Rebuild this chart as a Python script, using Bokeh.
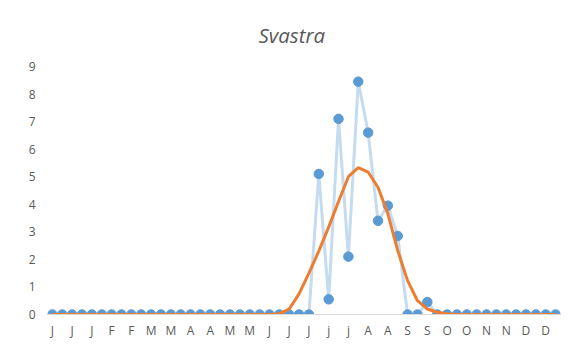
from bokeh.plotting import figure
from bokeh.models import ColumnDataSource, FixedTicker, Range1d
from bokeh.embed import file_html
from bokeh.resources import INLINE

# Weekly observations (52 weeks)
observed = [0]*27 + [5.1, 0.55, 7.1, 2.1, 8.45, 6.6, 3.4, 3.95, 2.85, 0, 0, 0.45] + [0]*13
fitted = [0]*23 + [0.03, 0.2, 0.75, 1.5, 2.3, 3.17, 4.1, 5.0, 5.33, 5.17, 4.62, 3.66,
                   2.32, 1.23, 0.5, 0.2, 0.08, 0.03] + [0]*11
tick_labels = ["J", "J", "J", "F", "F", "M", "M", "A", "A", "M", "M", "J", "J",
               "J", "j", "j", "A", "A", "S", "S", "O", "O", "N", "N", "D", "D"]
y_ticks = list(range(0, 10))

weeks = list(range(len(observed)))
src = ColumnDataSource(dict(x=weeks, obs=observed, fit=fitted))

p = figure(width=564, height=345, output_backend="svg", toolbar_location=None,
           x_range=Range1d(-0.5, len(weeks) - 0.5), y_range=Range1d(0, 9),
           min_border_left=47, min_border_right=4, min_border_top=66, min_border_bottom=31)
p.title.text = "Svastra"
p.title.align = "left"
p.title.offset = 211
p.title.text_font = "Open Sans"
p.title.text_font_style = "italic"
p.title.text_font_size = "20.5px"
p.title.text_color = "#595959"
p.title.standoff = 36

p.outline_line_color = None
p.xgrid.grid_line_color = None
p.ygrid.grid_line_color = None

p.xaxis.ticker = FixedTicker(ticks=list(range(0, len(weeks), 2)))
p.xaxis.major_label_overrides = {i * 2: lab for i, lab in enumerate(tick_labels)}
p.yaxis.ticker = FixedTicker(ticks=y_ticks)
for ax in (p.xaxis, p.yaxis):
    ax.major_tick_line_color = None
    ax.minor_tick_line_color = None
    ax.major_label_text_font = "Open Sans"
    ax.major_label_text_font_size = "12px"
    ax.major_label_text_color = "#595959"
p.xaxis.axis_line_color = "#d9d9d9"
p.xaxis.major_label_standoff = 1
p.yaxis.axis_line_color = None
p.yaxis.major_label_standoff = 6

p.line("x", "obs", source=src, line_color="#c5dcf0", line_width=3)
p.scatter("x", "obs", source=src, size=9.5, fill_color="#5b9bd5", line_color="#5b9bd5")
p.line("x", "fit", source=src, line_color="#ed7d31", line_width=3)

open("out.html", "w").write(file_html(p, INLINE))
